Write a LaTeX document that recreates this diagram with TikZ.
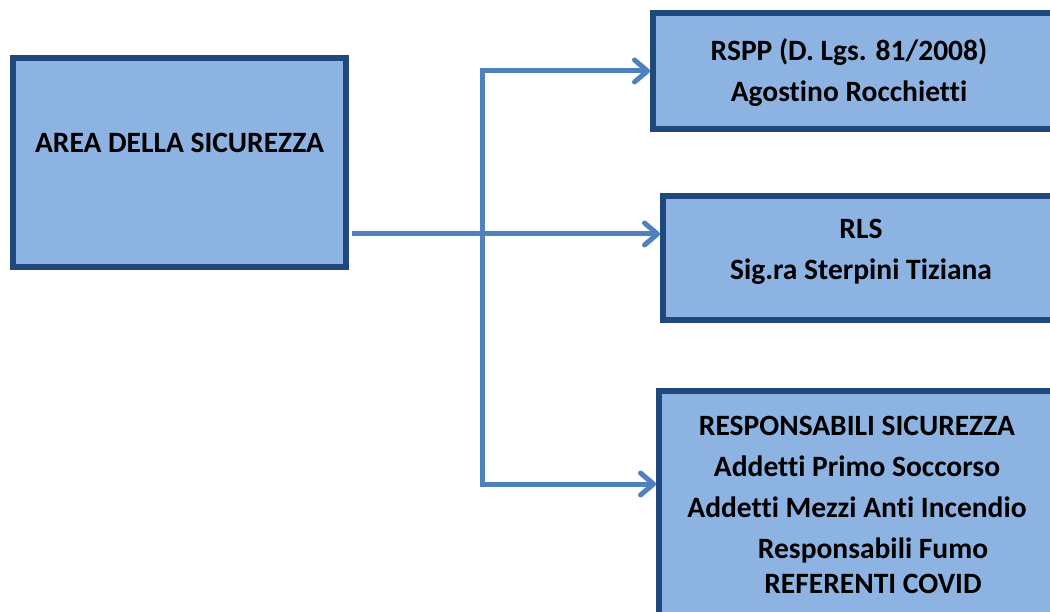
\documentclass[tikz,border=0pt]{standalone}
\usepackage{fontspec}
\setmainfont[Ligatures={NoCommon}]{Carlito}
\usetikzlibrary{arrows.meta,calc}
\definecolor{boxfill}{HTML}{8DB3E2}
\definecolor{boxline}{HTML}{1F497D}
\definecolor{link}{HTML}{4F81BD}
\begin{document}
\begin{tikzpicture}[x=1pt,y=-1pt,
  box/.style={draw=boxline,fill=boxfill,line width=6pt,inner sep=0pt},
  txt/.style={align=center,font=\fontsize{29.5}{41}\selectfont\bfseries,inner sep=0pt},
  conn/.style={draw=link,line width=5pt}]
\useasboundingbox (0,0) rectangle (1050,612);
\clip (0,0) rectangle (1050,612);
% boxes
\node[box,minimum width=333pt,minimum height=209pt] (area) at (179.5,162.5) {};
\node[box,minimum width=400pt,minimum height=116pt] (rspp) at (853,71) {};
\node[box,minimum width=396pt,minimum height=124pt] (rls) at (861,258) {};
\node[box,minimum width=396pt,minimum height=260pt] (resp) at (857,521) {};
% texts
\node[txt] (areatxt) at (179.5,143) {AREA DELLA SICUREZZA};
\node[txt] (rspptxt) at (849,73) {RSPP (D. Lgs. 81/2008)\\Agostino Rocchietti};
\node[txt] (rlstxt) at (861,252) {RLS\\Sig.ra Sterpini Tiziana};
\node[txt] (resptxt) at (857,505) {RESPONSABILI SICUREZZA\\Addetti Primo Soccorso\\Addetti Mezzi Anti Incendio\\
  \hspace*{32pt}Responsabili Fumo\\[-6pt]\hspace*{32pt}REFERENTI COVID};
% connectors
\coordinate (split) at (482,234);
\coordinate (low) at (482,484);
\draw[conn,-{Straight Barb[length=13pt,width=22pt,round]},shorten <=3pt] (area.east |- split) -- (rls.west |- split);
\draw[conn,{Straight Barb[length=13pt,width=22pt,round]}-{Straight Barb[length=13pt,width=22pt,round]}]
  (rspp.west) -| (split) |- (resp.west |- low);
\end{tikzpicture}
\end{document}
